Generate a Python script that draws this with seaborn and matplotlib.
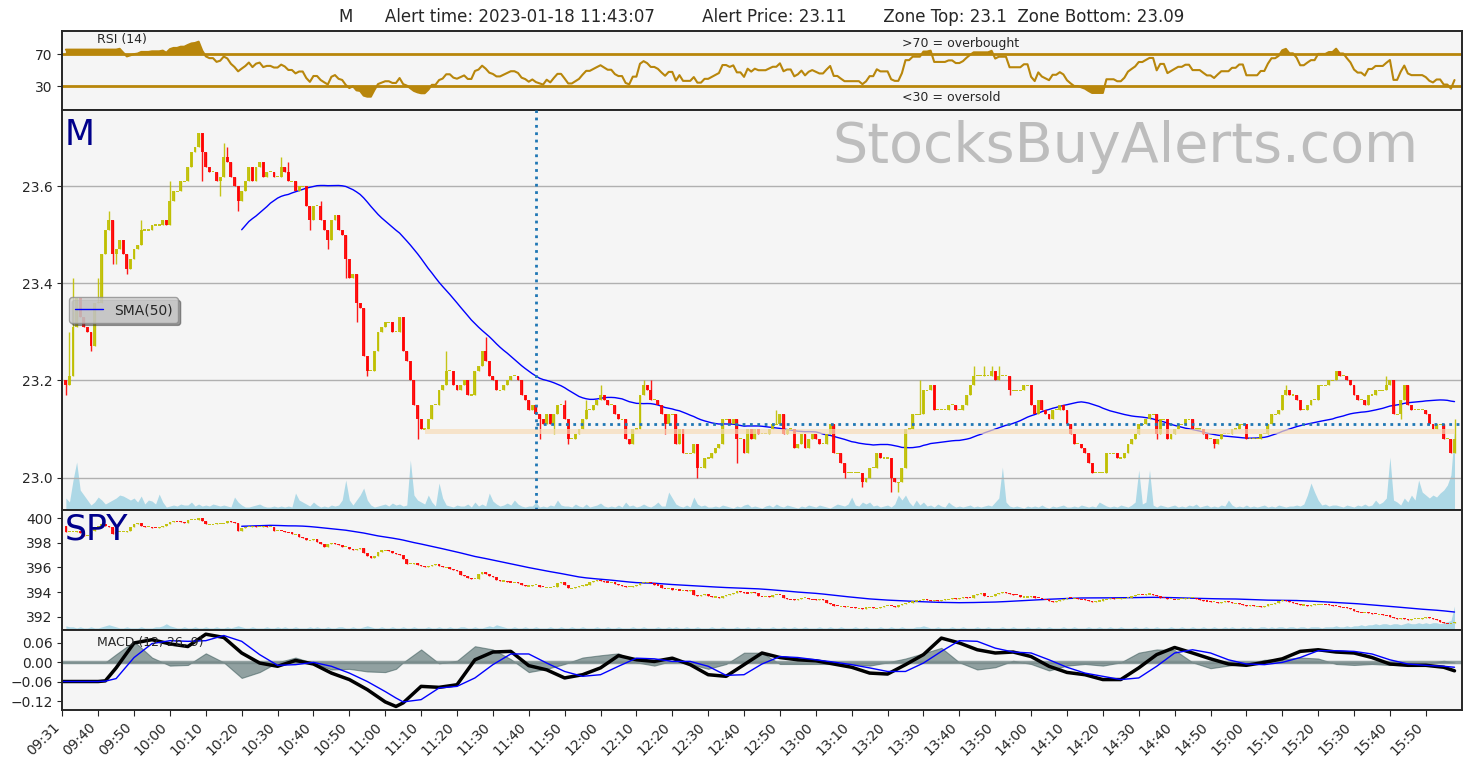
import numpy as np
import pandas as pd
import matplotlib
matplotlib.use("Agg")
import matplotlib.pyplot as plt
import seaborn as sns

sns.set_style("ticks")
plt.rcParams["font.family"] = ["DejaVu Sans"]
plt.rcParams["font.size"] = 10

title = ("M      Alert time: 2023-01-18 11:43:07         Alert Price: 23.11"
         "       Zone Top: 23.1  Zone Bottom: 23.09")

tick_labels = ["09:31", "09:40", "09:50", "10:00", "10:10", "10:20", "10:30", "10:40", "10:50",
               "11:00", "11:10", "11:20", "11:30", "11:40", "11:50", "12:00", "12:10", "12:20",
               "12:30", "12:40", "12:50", "13:00", "13:10", "13:20", "13:30", "13:40", "13:50",
               "14:00", "14:10", "14:20", "14:30", "14:40", "14:50", "15:00", "15:10", "15:20",
               "15:30", "15:40", "15:50"]

alert_pos = 132.1
alert_price = 23.11
zone_top = 23.10
zone_bottom = 23.09
zone_start = 100.5

# M close, cents above 23.00, one per minute
m_base = 23.00
m_first_open = 23.20
m_close_c = [
    19, 21, 31, 37, 33, 31, 30, 27, 36, 36, 46, 51, 53, 46, 47, 49, 46, 43, 45, 47,
    48, 51, 51, 51, 52, 52, 52, 53, 52, 57, 59, 59, 61, 61, 64, 67, 68, 71, 67, 64,
    63, 63, 61, 62, 66, 65, 62, 60, 57, 59, 61, 64, 61, 64, 65, 62, 63, 63, 62, 62,
    64, 63, 61, 61, 59, 60, 60, 56, 53, 56, 56, 53, 51, 49, 53, 54, 51, 50, 45, 41,
    42, 36, 35, 25, 22, 22, 26, 30, 31,
    32, 32, 30, 30, 33, 26, 24, 20, 15, 12, 10,
    10, 12, 15, 15, 18, 19, 22, 22, 19, 18, 19, 20, 17, 17, 22, 23, 26, 24, 21, 20,
    18, 18, 19, 20, 21, 21, 20, 17, 16, 14, 15, 13, 12, 11, 13, 11, 13, 15, 15, 12,
    8, 8, 9, 10, 12, 14, 14, 15, 16, 17, 16, 15, 15, 13, 12, 12, 8, 7, 10, 10,
    17, 19, 18, 16, 16, 15, 13, 11, 13, 13, 7, 10, 5, 5, 5, 7, 2, 2, 4, 4,
    5, 6, 7,
    12, 12, 11, 12, 8, 8, 5, 10, 8, 10, 9, 9, 9, 10, 11, 11, 13,
    9, 10, 10, 6, 7, 9, 6, 8, 9, 8, 7, 7, 9, 11, 5, 5, 3, 1, 1, 1,
    1, 1, -1, 0, 2, 2, 5, 4, 4, 4, 0, -1, -1, 2, 10, 10, 13, 13, 13, 18,
    18, 19, 14, 14, 14, 14, 15, 15, 14, 14, 15, 17, 19, 21, 21, 21, 21, 21, 22, 20,
    21, 21, 21, 18, 18, 18, 18, 19, 19, 15, 13, 16, 14, 13, 12, 14, 14, 15, 14, 11,
    9, 7, 7, 6, 5, 3, 1, 1, 1,
    1, 5, 5, 5, 4, 4, 5, 7, 8, 9, 11,
    11, 12, 13, 13, 9, 12, 12, 8, 9, 10, 11, 11, 12, 12, 10, 10, 10, 9, 8, 8,
    7, 8, 9, 9, 9, 10, 10, 11, 11, 8, 8, 8, 8, 9, 9, 11, 13, 13, 14, 17,
    18, 17, 17, 16, 14, 14, 15, 16, 16, 19, 19, 19, 20, 20, 22, 21, 21, 20, 19, 17,
    16, 16, 15, 17, 17, 18, 18, 18, 19, 20, 13, 13, 16, 19, 15, 14, 14, 14, 14, 13,
    11, 10, 11, 11, 8, 8, 5, 8,
]
# visible wick ends (cents) for some bars
m_high_wick = {1: 30, 2: 41, 9: 41, 12: 55, 21: 53, 29: 61, 44: 69, 45: 68, 60: 66, 62: 65,
               71: 57, 106: 26, 117: 29, 139: 16, 145: 16, 149: 19, 161: 20, 163: 20,
               198: 14, 238: 20, 253: 23, 256: 23, 258: 23, 260: 23, 340: 19, 368: 21, 387: 12}
m_low_wick = {0: 17, 7: 26, 13: 44, 14: 44, 17: 42, 38: 61, 43: 58, 48: 55, 67: 58, 68: 51,
              73: 47, 78: 41, 81: 32, 84: 21, 98: 8, 132: 8, 136: 9, 140: 7, 157: 7, 167: 9,
              176: 0, 187: 3, 217: 0, 222: -2, 230: -3, 232: -3, 263: 17, 304: 8, 320: 6, 372: 12}

m_vol = [
    12, 8, 30, 48, 20, 15, 10, 5, 8, 13, 10, 6, 8, 10, 12, 15, 14, 12, 10, 12,
    8, 14, 6, 10, 9, 6, 16, 8, 3, 4, 5, 4, 6, 5, 5, 8, 4, 6, 4, 5,
    4, 6, 5, 4, 5, 4, 3, 13, 8, 5, 3, 3, 4, 5, 6, 4, 3, 3, 4, 3,
    4, 3, 4, 3, 17, 10, 8, 6, 4, 8, 5, 3, 4, 3, 5, 4, 5, 10, 30, 10,
    5, 10, 15, 22, 10, 5, 3, 4, 5, 6, 4, 7, 5, 6, 4, 5, 50, 15, 10, 8,
    6, 15, 8, 4, 27, 12, 5, 4, 3, 5, 4, 4, 6, 3, 8, 4, 6, 4, 17, 9,
    6, 4, 5, 7, 5, 10, 6, 4, 3, 4, 4, 8, 3, 4, 3, 5, 4, 10, 5, 4,
    4, 3, 6, 4, 3, 6, 3, 4, 5, 7, 4, 3, 4, 3, 5, 3, 8, 4, 5, 3,
    4, 6, 4, 3, 5, 8, 4, 4, 18, 12, 6, 4, 3, 5, 3, 13, 6, 4, 5, 3,
    3, 4, 3, 5, 4, 3, 2, 4, 3, 5, 6, 3, 4, 3, 2, 4, 5, 3, 6, 4,
    3, 5, 4, 3, 2, 4, 3, 5, 4, 3, 5, 4, 3, 2, 4, 6, 5, 4, 6, 13,
    5, 4, 8, 6, 8, 4, 5, 3, 4, 5, 3, 6, 15, 10, 15, 8, 4, 10, 5, 8,
    4, 5, 3, 6, 4, 3, 8, 5, 3, 4, 3, 4, 5, 3, 4, 3, 4, 5, 4, 8,
    12, 43, 8, 4, 3, 4, 3, 2, 4, 3, 4, 3, 5, 3, 2, 4, 3, 4, 5, 3,
    3, 4, 3, 5, 4, 3, 4, 3, 8, 6, 4, 3, 4, 3, 5, 4, 3, 5, 8, 40,
    6, 8, 40, 5, 3, 5, 4, 3, 4, 5, 3, 4, 3, 5, 4, 6, 3, 4, 5, 3,
    4, 3, 5, 4, 10, 5, 3, 4, 3, 5, 3, 4, 3, 4, 5, 3, 4, 3, 5, 4,
    3, 4, 4, 5, 4, 6, 15, 27, 18, 10, 5, 6, 4, 5, 5, 4, 3, 5, 4, 3,
    5, 4, 6, 4, 5, 10, 6, 8, 12, 53, 10, 8, 5, 12, 8, 15, 10, 30, 18, 15,
    12, 15, 13, 17, 20, 25, 35, 80,
]

spy_first_open = 399.4
spy_close = [
    398.9, 398.9, 398.9, 399.0, 398.8, 398.6, 398.6, 399.0, 399.2, 399.4,
    399.5, 399.4, 399.3, 398.7, 398.9, 398.9, 398.9, 399.0, 399.3, 399.5,
    399.6, 399.4, 399.3, 399.3, 399.25, 399.2, 399.3, 399.4, 399.5, 399.7,
    399.8, 399.75, 399.7, 399.65, 399.85, 399.9, 399.9, 400.0, 399.8, 399.5,
    399.5, 399.5, 399.6, 399.6, 399.6, 399.8, 399.7, 399.6, 399.0, 399.2,
    399.3, 399.3, 399.35, 399.3, 399.3, 399.35, 399.3, 399.3, 399.0, 399.0,
    398.95, 398.9, 398.85, 398.7, 398.7, 398.5, 398.4, 398.2, 398.2, 398.3,
    398.1, 397.9, 397.7, 397.9, 398.0, 397.9, 397.8, 397.7, 397.7, 397.5,
    397.4, 397.5, 397.6, 397.2, 396.9, 396.8, 396.9, 397.3, 397.4, 397.4,
    397.35, 397.2, 397.1, 397.0, 396.7, 396.3, 396.3, 396.35, 396.2, 396.1,
    396.0, 396.1, 396.2, 396.25, 396.1, 396.0, 396.0, 395.85, 395.8, 395.7,
    395.4, 395.3, 395.15, 395.1, 395.1, 395.5, 395.6, 395.45, 395.3, 395.2,
    395.0, 394.9, 394.9, 394.85, 394.8, 394.8, 394.75, 394.55, 394.5, 394.5,
    394.6, 394.6, 394.45, 394.4, 394.4, 394.4, 394.45, 394.75, 394.8, 394.6,
    394.3, 394.35, 394.45, 394.5, 394.55, 394.6, 394.8, 394.9, 394.95, 394.9,
    394.85, 394.8, 394.8, 394.65, 394.6, 394.5, 394.45, 394.45, 394.5, 394.55,
    394.7, 394.8, 394.8, 394.7, 394.6, 394.55, 394.35, 394.3, 394.3, 394.2,
    394.2, 394.15, 394.15, 394.1, 394.15, 393.75, 393.7, 393.8, 393.85, 393.65,
    393.6, 393.6, 393.55, 393.65, 393.8, 393.85, 393.95, 394.05, 394.0, 393.95,
    393.9, 394.0, 393.95, 393.7, 393.65, 393.65, 393.6, 393.75, 393.8, 393.75,
    393.5, 393.45, 393.4, 393.35, 393.4, 393.5, 393.55, 393.45, 393.4, 393.35,
    393.4, 393.35, 393.15, 393.05, 392.9, 392.85, 392.85, 392.8, 392.8, 392.75,
    392.7, 392.7, 392.65, 392.75, 392.8, 392.7, 392.7, 392.75, 392.85, 392.9,
    392.85, 392.8, 392.95, 393.05, 393.1, 393.15, 393.25, 393.3, 393.35, 393.4,
    393.35, 393.3, 393.35, 393.3, 393.35, 393.4, 393.45, 393.5, 393.45, 393.55,
    393.6, 393.55, 393.5, 393.75, 393.85, 393.9, 393.7, 393.65, 393.7, 393.85,
    393.9, 394.0, 393.95, 393.85, 393.8, 393.75, 393.6, 393.6, 393.6, 393.65,
    393.55, 393.5, 393.45, 393.4, 393.25, 393.2, 393.3, 393.35, 393.45, 393.55,
    393.5, 393.5, 393.45, 393.4, 393.35, 393.25, 393.2, 393.25, 393.3, 393.4,
    393.45, 393.5, 393.45, 393.45, 393.5, 393.5, 393.55, 393.65, 393.75, 393.8,
    393.75, 393.85, 393.85, 393.75, 393.7, 393.55, 393.5, 393.45, 393.45, 393.4,
    393.45, 393.45, 393.5, 393.5, 393.55, 393.4, 393.35, 393.3, 393.25, 393.2,
    393.2, 393.15, 393.2, 393.25, 393.2, 393.1, 393.1, 393.0, 392.95, 392.9,
    392.95, 392.85, 392.85, 392.8, 392.85, 393.0, 393.05, 393.15, 393.3, 393.35,
    393.3, 393.2, 393.15, 393.0, 392.95, 392.95, 392.9, 392.95, 393.0, 393.0,
    393.05, 393.0, 392.95, 392.9, 392.85, 392.8, 392.75, 392.7, 392.65, 392.5,
    392.4, 392.35, 392.35, 392.3, 392.25, 392.2, 392.2, 392.15, 392.1, 391.95,
    391.9, 391.85, 391.9, 391.8, 391.75, 391.8, 391.85, 391.85, 391.9, 391.95,
    391.9, 391.8, 391.75, 391.6, 391.5, 391.45, 391.45, 391.55,
]

spy_vol = [
    4, 3, 3, 2, 3, 2, 2, 3, 2, 2, 3, 4, 5, 4, 3, 2, 2, 3, 2, 2,
    2, 3, 2, 2, 2, 3, 3, 4, 6, 4, 3, 2, 2, 3, 2, 2, 3, 2, 2, 3,
    2, 2, 3, 2, 2, 3, 2, 3, 4, 3, 2, 2, 3, 2, 2, 2, 3, 2, 2, 3,
    2, 3, 2, 2, 3, 2, 2, 2, 3, 2, 3, 2, 2, 3, 2, 2, 3, 3, 2, 2,
    3, 2, 2, 3, 4, 3, 2, 2, 3, 2, 2, 3, 2, 2, 3, 2, 2, 3, 2, 2,
    2, 3, 2, 2, 3, 2, 2, 3, 2, 2, 3, 3, 2, 2, 3, 2, 2, 3, 4, 3,
    5, 4, 3, 2, 2, 3, 2, 2, 3, 2, 2, 3, 2, 2, 2, 3, 2, 2, 3, 2,
    2, 3, 2, 2, 3, 2, 2, 2, 3, 2, 2, 3, 2, 2, 3, 2, 2, 2, 3, 2,
    2, 3, 2, 2, 2, 3, 2, 2, 3, 2, 3, 2, 2, 3, 2, 2, 3, 2, 2, 2,
    3, 2, 2, 3, 2, 2, 2, 3, 2, 2, 3, 2, 2, 3, 2, 2, 2, 3, 2, 2,
    3, 2, 2, 3, 2, 2, 3, 2, 2, 2, 3, 2, 2, 3, 2, 2, 3, 2, 2, 2,
    3, 2, 2, 3, 2, 2, 2, 3, 2, 2, 3, 2, 2, 3, 2, 2, 2, 3, 3, 4,
    3, 2, 2, 3, 2, 2, 2, 3, 2, 2, 3, 2, 2, 2, 3, 2, 2, 3, 2, 2,
    2, 3, 2, 2, 3, 2, 2, 2, 3, 2, 2, 3, 2, 2, 3, 2, 2, 2, 3, 2,
    2, 3, 2, 2, 2, 3, 2, 2, 3, 2, 2, 3, 2, 2, 3, 2, 2, 2, 3, 2,
    2, 3, 2, 2, 3, 2, 2, 2, 3, 2, 2, 3, 2, 2, 3, 2, 2, 3, 2, 2,
    3, 2, 2, 3, 2, 3, 2, 2, 3, 2, 3, 2, 2, 3, 3, 2, 3, 2, 3, 3,
    2, 3, 3, 2, 3, 3, 2, 3, 3, 3, 2, 3, 3, 3, 4, 3, 3, 4, 3, 4,
    4, 5, 4, 5, 5, 6, 5, 6, 6, 5, 6, 6, 5, 6, 7, 6, 6, 7, 6, 7,
    6, 7, 7, 6, 7, 8, 9, 23,
]

macd_x = [0, 5, 10, 12, 15, 20, 25, 30, 35, 40, 45, 50, 55, 60, 65, 70, 75, 80, 85, 90,
          93, 95, 100, 105, 110, 115, 120, 125, 130, 135, 140, 145, 150, 155, 160, 165,
          170, 175, 180, 185, 190, 195, 200, 205, 210, 215, 220, 225, 230, 235, 240, 245,
          250, 255, 260, 265, 270, 275, 280, 285, 290, 295, 300, 305, 310, 315, 320, 325,
          330, 335, 340, 345, 350, 355, 360, 365, 370, 375, 380, 385, 388]
macd_line = [-0.059, -0.059, -0.059, -0.057, -0.017, 0.060, 0.070, 0.057, 0.049, 0.087,
             0.077, 0.029, -0.002, -0.012, 0.006, -0.005, -0.033, -0.053, -0.084, -0.122,
             -0.136, -0.125, -0.074, -0.077, -0.069, 0.008, 0.032, 0.034, -0.010, -0.023,
             -0.048, -0.038, -0.017, 0.021, 0.008, 0.003, 0.013, -0.007, -0.038, -0.043,
             -0.007, 0.029, 0.015, 0.008, 0.005, -0.005, -0.015, -0.033, -0.036, -0.007,
             0.024, 0.075, 0.060, 0.039, 0.029, 0.032, 0.018, -0.012, -0.031, -0.038,
             -0.053, -0.053, -0.017, 0.024, 0.046, 0.029, 0.011, -0.005, -0.009, 0.000,
             0.011, 0.034, 0.039, 0.032, 0.029, 0.015, -0.005, -0.009, -0.009, -0.015, -0.026]
macd_signal = [-0.059, -0.059, -0.059, -0.058, -0.050, 0.015, 0.058, 0.067, 0.065, 0.067,
               0.083, 0.065, 0.024, -0.009, -0.007, 0.000, -0.012, -0.033, -0.059, -0.090,
               -0.110, -0.122, -0.115, -0.079, -0.074, -0.048, -0.007, 0.026, 0.026, -0.002,
               -0.028, -0.043, -0.038, -0.012, 0.013, 0.011, 0.003, 0.003, -0.012, -0.040,
               -0.038, -0.005, 0.018, 0.015, 0.008, 0.001, -0.007, -0.017, -0.028, -0.028,
               -0.002, 0.034, 0.067, 0.065, 0.044, 0.032, 0.029, 0.008, -0.015, -0.033,
               -0.043, -0.053, -0.048, -0.012, 0.029, 0.039, 0.029, 0.008, -0.005, -0.007,
               0.000, 0.015, 0.036, 0.036, 0.034, 0.026, 0.008, -0.005, -0.009, -0.012, -0.015]
macd_hist = [0.0, 0.0, 0.0, 0.0, 0.025, 0.065, 0.015, -0.010, -0.008, 0.028,
             0.0, -0.048, -0.030, 0.0, 0.015, -0.002, -0.022, -0.020, -0.028, -0.030,
             -0.020, 0.0, 0.040, -0.003, 0.005, 0.050, 0.040, 0.010, -0.030, -0.020,
             -0.005, 0.015, 0.022, 0.028, 0.0, -0.010, 0.005, -0.005, -0.020, -0.005,
             0.030, 0.030, -0.005, -0.005, -0.005, -0.005, -0.005, -0.010, 0.0, 0.012,
             0.028, 0.045, 0.0, -0.022, -0.015, 0.005, -0.005, -0.025, -0.010, -0.005,
             -0.010, 0.0, 0.030, 0.040, 0.038, 0.0, -0.018, -0.010, -0.004, 0.008,
             0.010, 0.015, 0.012, -0.005, -0.008, -0.005, -0.008, -0.005, -0.003, 0.005, 0.0]

# ---- derived series ----
pos = np.arange(1, len(m_close_c) + 1)
m_close = m_base + np.array(m_close_c) / 100.0
m_open = np.concatenate([[m_first_open], m_close[:-1]])
m_high = np.maximum(m_open, m_close)
m_low = np.minimum(m_open, m_close)
for k, v in m_high_wick.items():
    m_high[k] = max(m_high[k], m_base + v / 100.0)
for k, v in m_low_wick.items():
    m_low[k] = min(m_low[k], m_base + v / 100.0)

spy_c = np.array(spy_close)
spy_o = np.concatenate([[spy_first_open], spy_c[:-1]])

close = pd.Series(m_close)
m_sma = close.rolling(50).mean()
spy_sma = pd.Series(spy_c).rolling(50).mean()

delta = close.diff()
gain = delta.clip(lower=0).ewm(alpha=1 / 14, adjust=False, min_periods=14).mean()
loss = (-delta.clip(upper=0)).ewm(alpha=1 / 14, adjust=False, min_periods=14).mean()
rsi = (100 - 100 / (1 + gain / loss)).bfill().values

macd_df = pd.DataFrame({"t": macd_x, "macd": macd_line, "signal": macd_signal, "hist": macd_hist})

UP, DOWN = "y", "r"
BG = "#f5f5f5"


def draw_candles(ax, x, o, h, l, c, width, min_body):
    col = np.where(c >= o, UP, DOWN)
    ax.vlines(x, l, h, colors=col, lw=1, alpha=0.9, zorder=2)
    body = np.maximum(np.abs(c - o), min_body)
    ax.bar(x, body, width, bottom=(o + c) / 2 - body / 2, color=col, alpha=0.9, lw=0, zorder=3)


fig = plt.figure(figsize=(14.76, 7.68), dpi=100)
L, W = 0.0422, 0.9481
ax_r = fig.add_axes([L, 0.8568, W, 0.1033], label="rsi")
ax_mv = fig.add_axes([L, 0.3359, W, 0.5208], label="mvol")
ax_m = fig.add_axes([L, 0.3359, W, 0.5208], label="m")
ax_sv = fig.add_axes([L, 0.1797, W, 0.15625], label="svol")
ax_s = fig.add_axes([L, 0.1797, W, 0.15625], label="spy")
ax_d = fig.add_axes([L, 0.0755, W, 0.1042], label="macd")

xlim = (0, 390)
for ax in (ax_r, ax_mv, ax_m, ax_sv, ax_s, ax_d):
    ax.set_xlim(*xlim)
    for sp in ax.spines.values():
        sp.set_linewidth(1.4)
for ax in (ax_r, ax_mv, ax_sv, ax_d):
    ax.set_facecolor(BG)
for ax in (ax_m, ax_s):
    ax.patch.set_visible(False)
for ax in (ax_mv, ax_sv):
    ax.set_xticks([])
    ax.set_yticks([])
    for sp in ax.spines.values():
        sp.set_visible(False)

# ---- RSI ----
sns.lineplot(x=pos, y=rsi, ax=ax_r, color="#b8860b", lw=1.5, legend=False)
ax_r.axhline(70, color="#b8860b", lw=2)
ax_r.axhline(30, color="#b8860b", lw=2)
ax_r.fill_between(pos, 70, rsi, where=rsi >= 70, color="#b8860b", interpolate=True, lw=0)
ax_r.fill_between(pos, 30, rsi, where=rsi <= 30, color="#b8860b", interpolate=True, lw=0)
ax_r.set_ylim(0, 100)
ax_r.set_yticks([30, 70])
ax_r.tick_params(axis="x", bottom=False, labelbottom=False)
ax_r.text(0.0248, 0.883, "RSI (14)", transform=ax_r.transAxes, fontsize=9, va="center")
ax_r.text(0.600, 0.832, ">70 = overbought", transform=ax_r.transAxes, fontsize=9, va="center")
ax_r.text(0.600, 0.151, "<30 = oversold", transform=ax_r.transAxes, fontsize=9, va="center")

# ---- M price ----
ax_mv.fill_between(pos, 0, m_vol, color="lightblue", lw=0)
ax_mv.set_ylim(0, max(m_vol) * 5)
ax_m.set_axisbelow(True)
ax_m.grid(axis="y", color="#b0b0b0", lw=1)
draw_candles(ax_m, pos, m_open, m_high, m_low, m_close, 0.8, 0.0025)
sns.lineplot(x=pos, y=m_sma.values, ax=ax_m, color="blue", lw=1, label="SMA(50)")
zone_x = pos[pos >= zone_start]
ax_m.fill_between(zone_x, zone_bottom, zone_top, color="#f7dcb8", alpha=0.7, lw=0, zorder=4)
ax_m.axvline(alert_pos, color="#1f77b4", ls=":", lw=2, zorder=5)
ax_m.hlines(alert_price, alert_pos, xlim[1], color="#1f77b4", ls=":", lw=2, zorder=5)
ax_m.set_ylim(22.933, 23.757)
ax_m.set_yticks([23.0, 23.2, 23.4, 23.6])
ax_m.set_yticklabels(["23.0", "23.2", "23.4", "23.6"])
ax_m.tick_params(axis="x", bottom=False, labelbottom=False)
ax_m.legend(loc="center left", fontsize=10, shadow=True, fancybox=True,
            facecolor="#d2d2d2", edgecolor="#8c8c8c", framealpha=0.8)
ax_m.text(0.0015, 0.9125, "M", transform=ax_m.transAxes, fontsize=25, color="darkblue",
          va="baseline")
ax_m.text(0.9688, 0.8708, "StocksBuyAlerts.com", transform=ax_m.transAxes, fontsize=40,
          color="#bdbdbd", ha="right", va="baseline")

# ---- SPY ----
ax_sv.fill_between(pos, 0, spy_vol, color="lightblue", lw=0)
ax_sv.set_ylim(0, max(spy_vol) * 5)
draw_candles(ax_s, pos, spy_o, np.maximum(spy_o, spy_c), np.minimum(spy_o, spy_c), spy_c, 0.75, 0.09)
sns.lineplot(x=pos, y=spy_sma.values, ax=ax_s, color="blue", lw=1, legend=False)
ax_s.set_ylim(390.92, 400.675)
ax_s.set_yticks([392, 394, 396, 398, 400])
ax_s.set_xticks(range(0, 381, 10))
ax_s.tick_params(axis="x", labelbottom=False, length=4)
ax_s.text(0.0015, 0.75, "SPY", transform=ax_s.transAxes, fontsize=25, color="darkblue",
          va="baseline")

# ---- MACD ----
ax_d.fill_between(macd_df["t"], 0, macd_df["hist"], color="#2f4f4f", alpha=0.5, lw=0.8)
ax_d.axhline(0, color="#7a8c8c", lw=2.5, alpha=0.8)
sns.lineplot(data=macd_df, x="t", y="macd", ax=ax_d, color="black", lw=2.5, legend=False)
sns.lineplot(data=macd_df, x="t", y="signal", ax=ax_d, color="blue", lw=1, legend=False)
ax_d.set_ylim(-0.147, 0.100)
ax_d.set_yticks([-0.12, -0.06, 0.0, 0.06])
ax_d.set_yticklabels(["\u22120.12", "\u22120.06", "0.00", "0.06"])
ax_d.set_xticks(range(0, 381, 10))
ax_d.set_xticklabels(tick_labels, rotation=45, ha="right")
ax_d.tick_params(axis="x", length=4)
ax_d.text(0.0248, 0.8375, "MACD (12, 26, 9)", transform=ax_d.transAxes, fontsize=9, va="center")

for ax in (ax_r, ax_m, ax_s, ax_d):
    ax.set_xlabel("")
    ax.set_ylabel("")
    ax.tick_params(labelsize=10)

fig.suptitle(title, x=0.5163, y=0.978, fontsize=12, va="center")
fig.savefig("out.png", dpi=100)
